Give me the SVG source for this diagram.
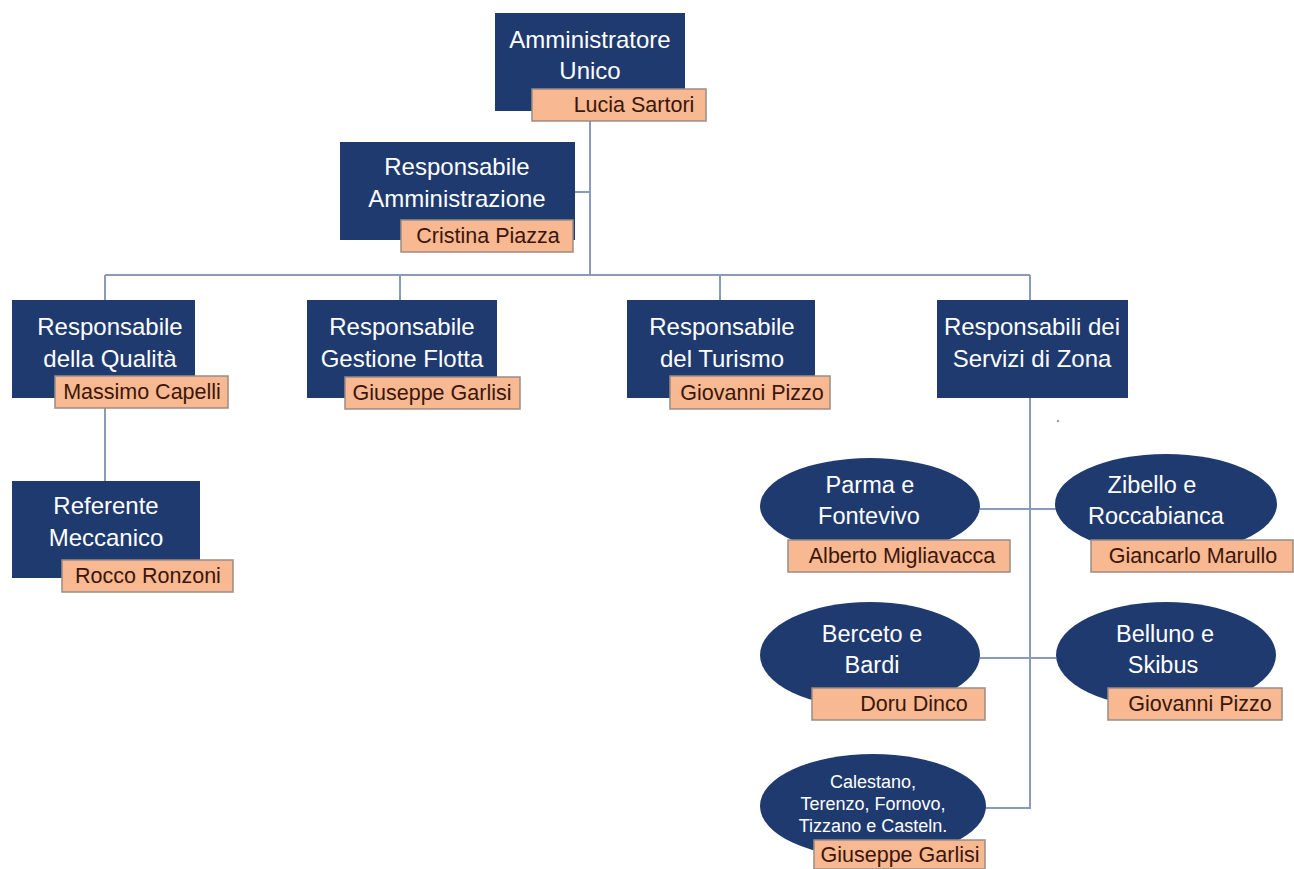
<svg xmlns="http://www.w3.org/2000/svg" width="1294" height="869" viewBox="0 0 1294 869">
<style>
.box{fill:#1f3a6f;}
.ell{fill:#1f3a6f;}
.nm{fill:#f7b892;stroke:#9a8c84;stroke-width:1.5;}
.t{font-family:"Liberation Sans",Arial,sans-serif;font-size:24px;fill:#ffffff;text-anchor:middle;}
.te{font-family:"Liberation Sans",Arial,sans-serif;font-size:23.5px;fill:#ffffff;text-anchor:middle;}
.ts{font-family:"Liberation Sans",Arial,sans-serif;font-size:18px;fill:#ffffff;text-anchor:middle;}
.n{font-family:"Liberation Sans",Arial,sans-serif;font-size:21.5px;fill:#3b1608;text-anchor:middle;}
.c{fill:none;stroke:#8a9ab8;stroke-width:2;}
</style>
<rect width="1294" height="869" fill="#ffffff"/>
<g id="connectors">
<path class="c" d="M590 114 V275"/>
<path class="c" d="M575 192 H590"/>
<path class="c" d="M105 275 H1030"/>
<path class="c" d="M105 275 V300"/>
<path class="c" d="M400 275 V300"/>
<path class="c" d="M720 275 V300"/>
<path class="c" d="M1030 275 V300"/>
<path class="c" d="M105 408 V481"/>
<path class="c" d="M1030 398 V808 H985"/>
<path class="c" d="M980 509 H1056"/>
<path class="c" d="M980 658 H1056"/>
</g>
<g id="n-amministratore">
<rect class="box" x="495" y="13" width="190" height="98"/>
<text class="t" x="590" y="48">Amministratore</text>
<text class="t" x="590" y="79">Unico</text>
<rect class="nm" x="532" y="89" width="174" height="32"/>
<text class="n" x="634" y="112">Lucia Sartori</text>
</g>
<g id="n-amministrazione">
<rect class="box" x="340" y="142" width="235" height="98"/>
<text class="t" x="457" y="175">Responsabile</text>
<text class="t" x="457" y="207">Amministrazione</text>
<rect class="nm" x="401" y="220" width="172" height="32"/>
<text class="n" x="488" y="243">Cristina Piazza</text>
</g>
<g id="n-qualita">
<rect class="box" x="12" y="300" width="183" height="98"/>
<text class="t" x="110" y="335">Responsabile</text>
<text class="t" x="110" y="367">della Qualità</text>
<rect class="nm" x="55" y="376" width="173" height="32"/>
<text class="n" x="142" y="399">Massimo Capelli</text>
</g>
<g id="n-flotta">
<rect class="box" x="307" y="300" width="190" height="98"/>
<text class="t" x="402" y="335">Responsabile</text>
<text class="t" x="402" y="367">Gestione Flotta</text>
<rect class="nm" x="345" y="377" width="175" height="32"/>
<text class="n" x="432" y="400">Giuseppe Garlisi</text>
</g>
<g id="n-turismo">
<rect class="box" x="627" y="300" width="188" height="98"/>
<text class="t" x="722" y="335">Responsabile</text>
<text class="t" x="722" y="367">del Turismo</text>
<rect class="nm" x="670" y="376" width="160" height="33"/>
<text class="n" x="752" y="400">Giovanni Pizzo</text>
</g>
<g id="n-zona">
<rect class="box" x="937" y="300" width="191" height="98"/>
<text class="t" x="1032" y="335">Responsabili dei</text>
<text class="t" x="1032" y="367">Servizi di Zona</text>
</g>
<circle cx="1058" cy="421" r="1.2" fill="#8a9ab8"/>
<g id="n-meccanico">
<rect class="box" x="12" y="481" width="188" height="97"/>
<text class="t" x="106" y="514">Referente</text>
<text class="t" x="106" y="546">Meccanico</text>
<rect class="nm" x="62" y="560" width="171" height="32"/>
<text class="n" x="148" y="583">Rocco Ronzoni</text>
</g>
<g id="n-parma">
<ellipse class="ell" cx="870" cy="506" rx="110" ry="48"/>
<text class="te" x="870" y="493">Parma e</text>
<text class="te" x="869" y="524">Fontevivo</text>
<rect class="nm" x="788" y="540" width="222" height="32"/>
<text class="n" x="902" y="563">Alberto Migliavacca</text>
</g>
<g id="n-zibello">
<ellipse class="ell" cx="1166" cy="504" rx="111" ry="50"/>
<text class="te" x="1152" y="493">Zibello e</text>
<text class="te" x="1156" y="524">Roccabianca</text>
<rect class="nm" x="1091" y="540" width="202" height="32"/>
<text class="n" x="1193" y="563">Giancarlo Marullo</text>
</g>
<g id="n-berceto">
<ellipse class="ell" cx="870" cy="655" rx="110" ry="53"/>
<text class="te" x="872" y="642">Berceto e</text>
<text class="te" x="872" y="673">Bardi</text>
<rect class="nm" x="812" y="688" width="173" height="32"/>
<text class="n" x="914" y="711">Doru Dinco</text>
</g>
<g id="n-belluno">
<ellipse class="ell" cx="1166" cy="655" rx="110" ry="53"/>
<text class="te" x="1165" y="642">Belluno e</text>
<text class="te" x="1163" y="673">Skibus</text>
<rect class="nm" x="1108" y="688" width="174" height="32"/>
<text class="n" x="1200" y="711">Giovanni Pizzo</text>
</g>
<g id="n-calestano">
<ellipse class="ell" cx="873" cy="806" rx="113" ry="52"/>
<text class="ts" x="873" y="788">Calestano,</text>
<text class="ts" x="873" y="810">Terenzo, Fornovo,</text>
<text class="ts" x="873" y="832">Tizzano e Casteln.</text>
<rect class="nm" x="814" y="840" width="171" height="29"/>
<text class="n" x="900" y="862">Giuseppe Garlisi</text>
</g>
</svg>
